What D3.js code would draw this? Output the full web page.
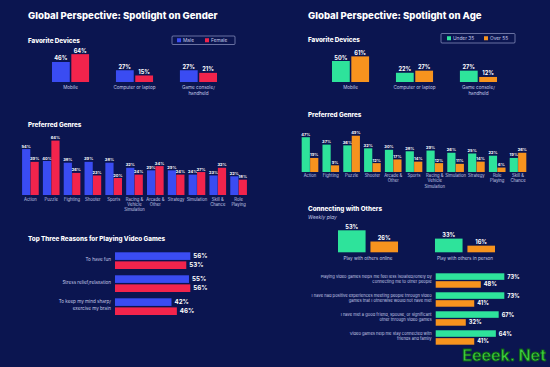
<!DOCTYPE html>
<html>
<head>
<meta charset="utf-8">
<script src="https://cdn.jsdelivr.net/npm/d3@7/dist/d3.min.js"></script>
<style>
  html, body { margin: 0; padding: 0; background: #0b1550; }
  svg { display: block; }
  text { font-family: Inter, Roboto, "DejaVu Sans", sans-serif; }
</style>
</head>
<body>
<div id="chart"></div>
<script>
// ---- data ----
var devices = ["Mobile", "Computer or laptop", "Game console/\nhandheld"];
var deviceMale = [46, 27, 27];
var deviceFemale = [64, 15, 21];
var deviceUnder35 = [50, 22, 27];
var deviceOver55 = [61, 27, 12];

var genresGender = ["Action", "Puzzle", "Fighting", "Shooter", "Sports", "Racing &\nVehicle\nSimulation",
    "Arcade &\nOther", "Strategy", "Simulation", "Skill &\nChance", "Role\nPlaying"];
var genreMale = [54, 40, 38, 39, 38, 32, 29, 29, 24, 23, 22];
var genreFemale = [39, 64, 26, 23, 20, 24, 34, 24, 27, 32, 18];

var genresAge = ["Action", "Fighting", "Puzzle", "Shooter", "Arcade &\nOther", "Sports",
    "Racing &\nVehicle\nSimulation", "Simulation", "Strategy", "Role\nPlaying", "Skill &\nChance"];
var genreUnder35 = [47, 37, 36, 32, 30, 28, 29, 26, 25, 22, 19];
var genreOver55 = [19, 9, 49, 12, 17, 14, 12, 11, 14, 6, 26];

var reasons = ["To have fun", "Stress relief/relaxation", "To keep my mind sharp/\nexercise my brain"];
var reasonMale = [56, 55, 42];
var reasonFemale = [53, 56, 46];

var playModes = ["Play with others online", "Play with others in person"];
var playUnder35 = [53, 33];
var playOver55 = [26, 16];

var socialItems = [
    "Playing video games helps me feel less isolated/lonely by\nconnecting me to other people",
    "I have had positive experiences meeting people through video\ngames that I otherwise would not have met",
    "I have met a good friend, spouse, or significant\nother through video games",
    "Video games help me stay connected with\nfriends and family"];
var socialUnder35 = [73, 73, 67, 64];
var socialOver55 = [48, 41, 32, 41];

var BLUE = "#3a4cf2", RED = "#f2244c", GREEN = "#2ee39b", ORANGE = "#f7931e";
var LABEL = "#c3c8e6";

var svg = d3.select("#chart").append("svg")
    .attr("width", 550)
    .attr("height", 367);

svg.append("rect").attr("width", 550).attr("height", 367).attr("fill", "#0b1550");

function heading(x, y, txt, size) {
    svg.append("text")
        .attr("x", x).attr("y", y)
        .attr("fill", "#fff")
        .attr("font-size", size)
        .attr("font-weight", 800)
        .text(txt);
}

function multiline(sel, txt, lh) {
    var lines = txt.split("\n");
    lines.forEach(function(l, i) {
        sel.append("tspan").attr("x", sel.attr("x")).attr("dy", i === 0 ? 0 : lh).text(l);
    });
}

// grouped vertical bars
function vbars(cats, a, b, colors, o) {
    var x = d3.scaleBand().domain(cats).range([o.x0, o.x1])
        .paddingInner(o.pIn).paddingOuter(o.pOut);
    var x1 = d3.scaleBand().domain([0, 1]).range([0, x.bandwidth()]).paddingInner(o.sub);
    var y = d3.scaleLinear().domain([0, 100]).range([o.base, o.base - 100 * o.px]);

    var g = svg.append("g");
    cats.forEach(function(c, i) {
        [a[i], b[i]].forEach(function(v, k) {
            g.append("rect")
                .attr("x", x(c) + x1(k))
                .attr("y", y(v))
                .attr("width", x1.bandwidth())
                .attr("height", y(0) - y(v))
                .attr("fill", colors[k]);
            g.append("text")
                .attr("x", x(c) + x1(k) + x1.bandwidth() / 2)
                .attr("y", y(v) - 1.5)
                .attr("text-anchor", "middle")
                .attr("fill", "#fff")
                .attr("font-size", o.vfs)
                .attr("font-weight", 700)
                .text(v + "%");
        });
        var t = g.append("text")
            .attr("x", x(c) + x.bandwidth() / 2)
            .attr("y", o.labelY)
            .attr("text-anchor", "middle")
            .attr("fill", LABEL)
            .attr("font-size", o.lfs);
        multiline(t, c, o.lfs * 1.25);
    });
}

// grouped horizontal bars
function hbars(cats, a, b, colors, o) {
    var y = d3.scaleBand().domain(cats).range([o.y0, o.y1]).paddingInner(o.pIn).paddingOuter(0);
    var y1 = d3.scaleBand().domain([0, 1]).range([0, y.bandwidth()]).paddingInner(o.sub);
    var x = d3.scaleLinear().domain([0, 100]).range([o.x0, o.x0 + 100 * o.px]);

    var g = svg.append("g");
    cats.forEach(function(c, i) {
        [a[i], b[i]].forEach(function(v, k) {
            g.append("rect")
                .attr("x", x(0))
                .attr("y", y(c) + y1(k))
                .attr("width", x(v) - x(0))
                .attr("height", y1.bandwidth())
                .attr("fill", colors[k]);
            g.append("text")
                .attr("x", x(v) + 3)
                .attr("y", y(c) + y1(k) + y1.bandwidth() / 2)
                .attr("dy", "0.35em")
                .attr("fill", "#fff")
                .attr("font-size", o.vfs)
                .attr("font-weight", 700)
                .text(v + "%");
        });
        var lines = c.split("\n").length;
        var lh = o.lfs * 1.45;
        var t = g.append("text")
            .attr("x", o.x0 - 4)
            .attr("y", y(c) + y.bandwidth() / 2 - (lines - 1) * lh / 2)
            .attr("dy", "0.35em")
            .attr("text-anchor", "end")
            .attr("fill", LABEL)
            .attr("font-size", o.lfs);
        multiline(t, c, lh);
    });
}

function legend(x, y, w, h, items) {
    svg.append("rect")
        .attr("x", x).attr("y", y).attr("width", w).attr("height", h)
        .attr("rx", 1)
        .attr("fill", "none").attr("stroke", "#aab0d8").attr("stroke-width", 0.6);
    items.forEach(function(it) {
        svg.append("rect")
            .attr("x", it.x).attr("y", y + h / 2 - 2).attr("width", 4).attr("height", 4)
            .attr("fill", it.color);
        svg.append("text")
            .attr("x", it.x + 6).attr("y", y + h / 2).attr("dy", "0.35em")
            .attr("fill", LABEL).attr("font-size", 4.8)
            .text(it.name);
    });
}

// ---- left panel: gender ----
heading(28, 19, "Global Perspective: Spotlight on Gender", 9.6);
heading(28, 43, "Favorite Devices", 6.3);
legend(172, 36, 63, 8.5, [{ x: 177, color: BLUE, name: "Male" }, { x: 205, color: RED, name: "Female" }]);
vbars(devices, deviceMale, deviceFemale, [BLUE, RED],
    { x0: 52, x1: 217, pIn: 0.42, pOut: 0, sub: 0.08, base: 82, px: 0.435, labelY: 89, lfs: 4.6, vfs: 5.6 });

heading(28, 127, "Preferred Genres", 6.3);
vbars(genresGender, genreMale, genreFemale, [BLUE, RED],
    { x0: 20, x1: 249, pIn: 0.2, pOut: 0.1, sub: 0.03, base: 195, px: 0.85, labelY: 200.5, lfs: 4.2, vfs: 4 });

heading(28, 241, "Top Three Reasons for Playing Video Games", 6.3);
hbars(reasons, reasonMale, reasonFemale, [BLUE, RED],
    { y0: 252.3, y1: 315, pIn: 0.274, sub: 0.16, x0: 115, px: 1.345, lfs: 4.6, vfs: 6.2 });

// ---- right panel: age ----
heading(308, 19, "Global Perspective: Spotlight on Age", 9.6);
heading(308, 42, "Favorite Devices", 6.3);
legend(441, 33.5, 74, 9.5, [{ x: 447, color: GREEN, name: "Under 35" }, { x: 484, color: ORANGE, name: "Over 55" }]);
vbars(devices, deviceUnder35, deviceOver55, [GREEN, ORANGE],
    { x0: 332, x1: 497, pIn: 0.42, pOut: 0, sub: 0.08, base: 82, px: 0.42, labelY: 89, lfs: 4.6, vfs: 5.6 });

heading(308, 117, "Preferred Genres", 6.3);
vbars(genresAge, genreUnder35, genreOver55, [GREEN, ORANGE],
    { x0: 299.6, x1: 528.4, pIn: 0.2, pOut: 0.1, sub: 0.03, base: 172, px: 0.74, labelY: 177, lfs: 4.2, vfs: 4 });

heading(308, 211, "Connecting with Others", 6.3);
svg.append("text")
    .attr("x", 308).attr("y", 218.5)
    .attr("fill", LABEL).attr("font-size", 5).attr("font-style", "italic")
    .text("Weekly play");
vbars(playModes, playUnder35, playOver55, [GREEN, ORANGE],
    { x0: 338, x1: 495, pIn: 0.381, pOut: 0, sub: 0.15, base: 252.3, px: 0.415, labelY: 259.5, lfs: 4.6, vfs: 5.6 });

hbars(socialItems, socialUnder35, socialOver55, [GREEN, ORANGE],
    { y0: 273.3, y1: 344.7, pIn: 0.24, sub: 0.17, x0: 435.7, px: 0.94, lfs: 4.1, vfs: 5.6 });

// watermark
svg.append("text")
    .attr("x", 546).attr("y", 361)
    .attr("text-anchor", "end")
    .attr("font-family", "'DejaVu Sans Mono', monospace")
    .attr("font-weight", 700)
    .attr("font-size", 16)
    .attr("fill", "#3fd23f")
    .attr("stroke", "#0a5a14")
    .attr("stroke-width", 0.8)
    .text("Eeeek. Net");
</script>
</body>
</html>
